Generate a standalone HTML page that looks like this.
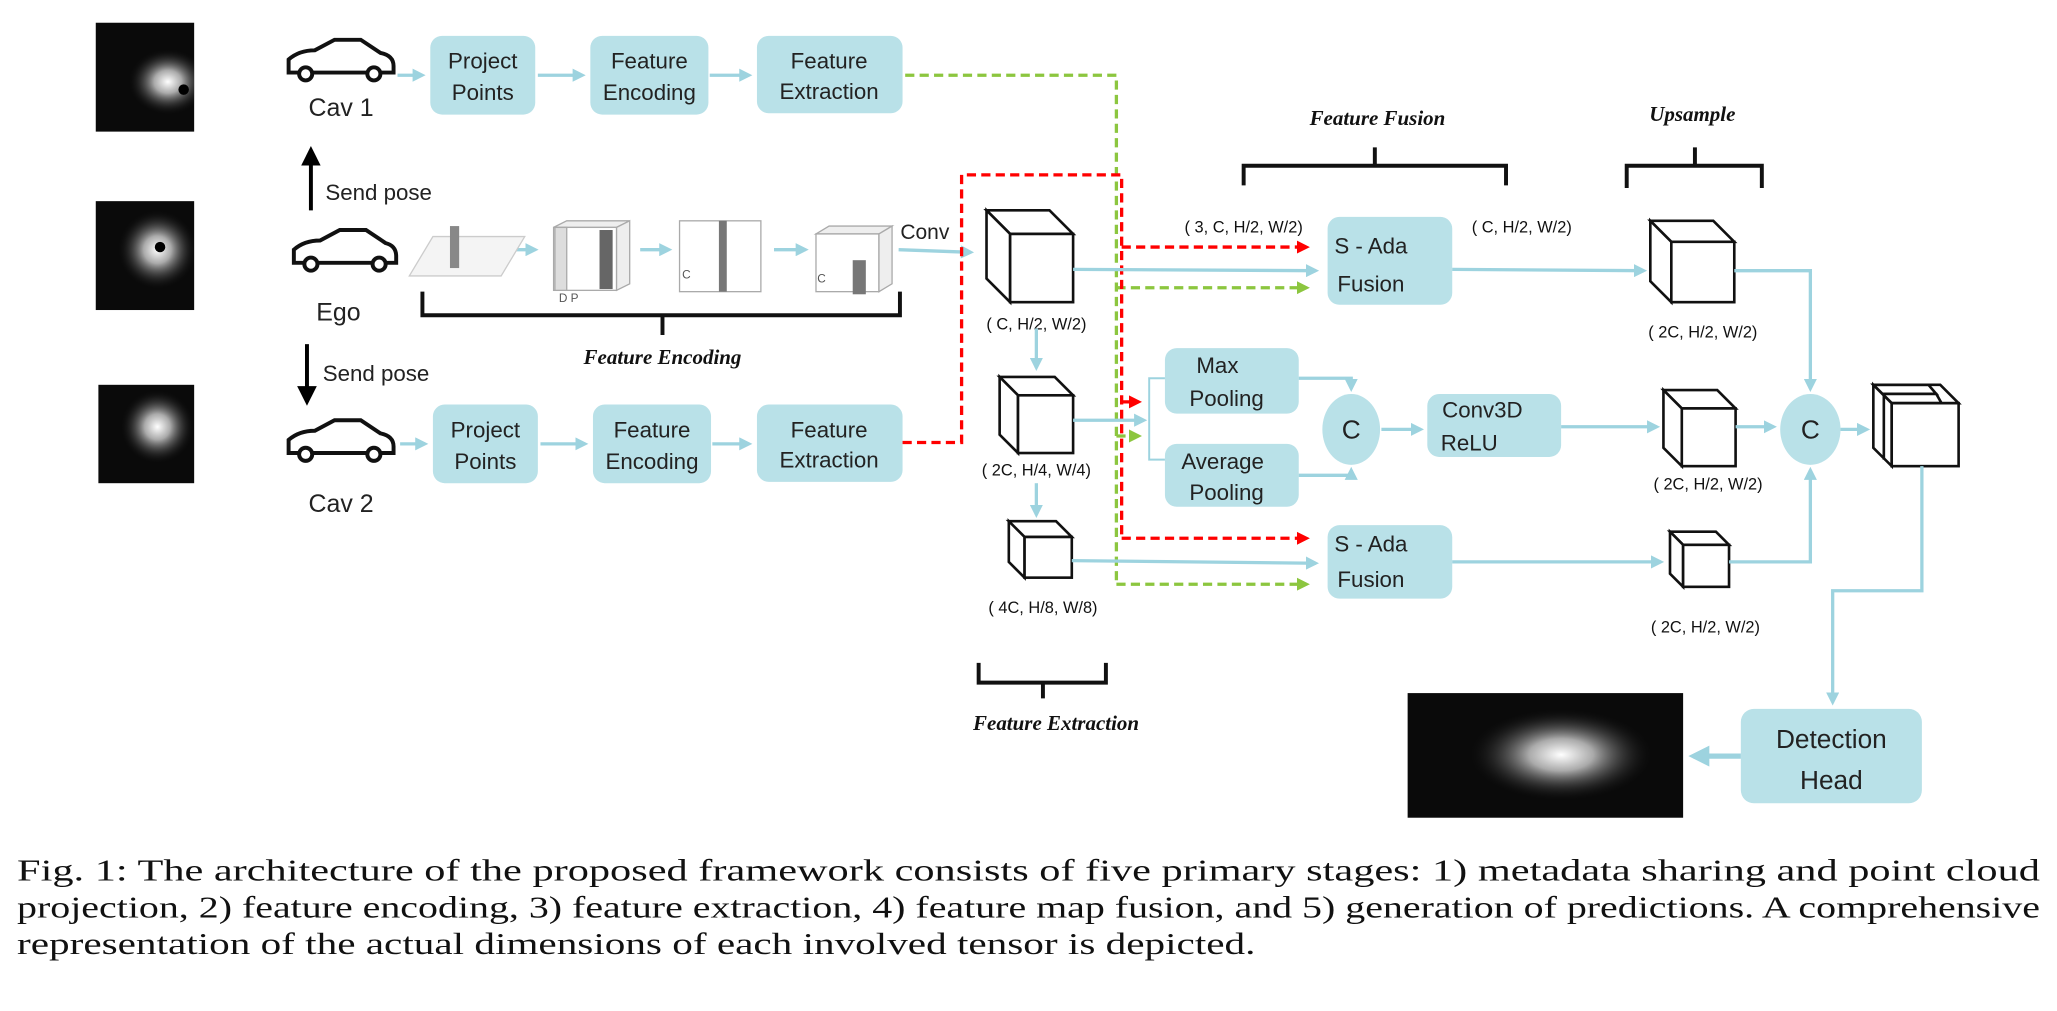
<!DOCTYPE html>
<html><head><meta charset="utf-8"><style>
html,body{margin:0;padding:0;background:#fff;}
svg{display:block}
.bx{fill:#b9e1e8;}
.t{font-family:"Liberation Sans",sans-serif;font-size:17px;fill:#222;text-anchor:middle}
.d{font-family:"Liberation Sans",sans-serif;font-size:12.5px;fill:#111;text-anchor:middle}
.it{font-family:"Liberation Serif",serif;font-style:italic;font-weight:bold;font-size:16px;fill:#111;text-anchor:middle}
.b{stroke:#9dd3df;stroke-width:2.5;fill:none}
.r{stroke:#f00;stroke-width:2.5;fill:none;stroke-dasharray:7,4}
.g{stroke:#8cc63f;stroke-width:2.5;fill:none;stroke-dasharray:7,4}
.c{fill:#fff;stroke:#111;stroke-width:2}
.br{stroke:#111;stroke-width:3;fill:none}
.cap{font-family:"Liberation Serif",serif;font-size:23px;fill:#111}
</style></head><body>
<svg width="2057" height="1011" viewBox="0 0 1568 770" xmlns="http://www.w3.org/2000/svg">
<defs>
<marker id="ab" markerWidth="4" markerHeight="4" refX="3" refY="2" orient="auto"><path d="M0,0 L4,2 L0,4 z" fill="#9dd3df"/></marker>
<marker id="ar" markerWidth="4" markerHeight="4" refX="3" refY="2" orient="auto"><path d="M0,0 L4,2 L0,4 z" fill="#f00"/></marker>
<marker id="ag" markerWidth="4" markerHeight="4" refX="3" refY="2" orient="auto"><path d="M0,0 L4,2 L0,4 z" fill="#8cc63f"/></marker>
<marker id="ak" markerWidth="5" markerHeight="5" refX="4" refY="2.5" orient="auto"><path d="M0,0 L5,2.5 L0,5 z" fill="#000"/></marker>
<radialGradient id="glow"><stop offset="0" stop-color="#fff"/><stop offset="0.35" stop-color="#aaa"/><stop offset="1" stop-color="#111" stop-opacity="0"/></radialGradient>
<clipPath id="c1"><rect x="73" y="17" width="75" height="83"/></clipPath>
<clipPath id="c2"><rect x="73" y="153" width="75" height="83"/></clipPath>
<clipPath id="c3"><rect x="75" y="293" width="73" height="75"/></clipPath>
<clipPath id="c4"><rect x="1073" y="528" width="210" height="95"/></clipPath>
</defs>

<rect x="73" y="17" width="75" height="83" fill="#0a0a0a"/><ellipse clip-path="url(#c1)" cx="128" cy="62" rx="30" ry="25" fill="url(#glow)"/><circle cx="140" cy="68" r="4" fill="#000"/>
<rect x="73" y="153" width="75" height="83" fill="#0a0a0a"/><ellipse clip-path="url(#c2)" cx="120" cy="190" rx="30" ry="30" fill="url(#glow)"/><circle cx="122" cy="188" r="4" fill="#000"/>
<rect x="75" y="293" width="73" height="75" fill="#0a0a0a"/><ellipse clip-path="url(#c3)" cx="120" cy="325" rx="28" ry="28" fill="url(#glow)"/>
<rect x="1073" y="528" width="210" height="95" fill="#0a0a0a"/><ellipse clip-path="url(#c4)" cx="1190" cy="575" rx="70" ry="35" fill="url(#glow)"/>

<g fill="none" stroke="#111" stroke-width="3">
<path d="M220,55 L220,45 Q228,38 240,38 L255,30 L275,30 L290,40 Q300,42 300,50 L300,55 Z"/><circle cx="233" cy="56" r="5" fill="#fff"/><circle cx="285" cy="56" r="5" fill="#fff"/>
<path d="M224,200 L224,190 Q232,183 244,183 L259,175 L279,175 L294,185 Q302,187 302,195 L302,200 Z"/><circle cx="237" cy="201" r="5" fill="#fff"/><circle cx="289" cy="201" r="5" fill="#fff"/>
<path d="M220,345 L220,335 Q228,328 240,328 L255,320 L275,320 L290,330 Q300,332 300,340 L300,345 Z"/><circle cx="233" cy="346" r="5" fill="#fff"/><circle cx="285" cy="346" r="5" fill="#fff"/>
</g>
<text class="t" x="260" y="88" style="font-size:19px">Cav 1</text>
<text class="t" x="258" y="244" style="font-size:19px">Ego</text>
<text class="t" x="260" y="390" style="font-size:19px">Cav 2</text>
<line x1="237" y1="160" x2="237" y2="114" stroke="#000" stroke-width="3" marker-end="url(#ak)"/>
<line x1="234" y1="262" x2="234" y2="306" stroke="#000" stroke-width="3" marker-end="url(#ak)"/>
<text class="t" x="248" y="152" style="text-anchor:start;font-size:17px">Send pose</text>
<text class="t" x="246" y="290" style="text-anchor:start;font-size:17px">Send pose</text>

<rect class="bx" x="328" y="27" width="80" height="60" rx="9"/><text class="t" x="368" y="52">Project</text><text class="t" x="368" y="76">Points</text>
<rect class="bx" x="450" y="27" width="90" height="60" rx="9"/><text class="t" x="495" y="52">Feature</text><text class="t" x="495" y="76">Encoding</text>
<rect class="bx" x="577" y="27" width="111" height="59" rx="9"/><text class="t" x="632" y="52">Feature</text><text class="t" x="632" y="75">Extraction</text>
<rect class="bx" x="330" y="308" width="80" height="60" rx="9"/><text class="t" x="370" y="333">Project</text><text class="t" x="370" y="357">Points</text>
<rect class="bx" x="452" y="308" width="90" height="60" rx="9"/><text class="t" x="497" y="333">Feature</text><text class="t" x="497" y="357">Encoding</text>
<rect class="bx" x="577" y="308" width="111" height="59" rx="9"/><text class="t" x="632" y="333">Feature</text><text class="t" x="632" y="356">Extraction</text>
<g class="b" stroke-width="4">
<line x1="303" y1="57" x2="322" y2="57" marker-end="url(#ab)"/><line x1="410" y1="57" x2="444" y2="57" marker-end="url(#ab)"/><line x1="541" y1="57" x2="571" y2="57" marker-end="url(#ab)"/>
<line x1="305" y1="338" x2="324" y2="338" marker-end="url(#ab)"/><line x1="412" y1="338" x2="446" y2="338" marker-end="url(#ab)"/><line x1="543" y1="338" x2="571" y2="338" marker-end="url(#ab)"/>
<line x1="386" y1="190" x2="408" y2="190" marker-end="url(#ab)"/><line x1="488" y1="190" x2="510" y2="190" marker-end="url(#ab)"/><line x1="590" y1="190" x2="614" y2="190" marker-end="url(#ab)"/>
<line x1="685" y1="190" x2="740" y2="192" marker-end="url(#ab)"/>
</g>

<polygon points="312,210 330,180 400,180 382,210" fill="#f4f4f4" stroke="#ccc"/>
<rect x="343" y="172" width="7" height="32" fill="#888"/>
<g stroke="#aaa" fill="#eee">
<polygon points="422,173 432,168 480,168 470,173"/><rect x="422" y="173" width="48" height="48" fill="#fff"/><polygon points="470,173 480,168 480,216 470,221"/>
<rect x="423" y="173" width="9" height="48" fill="#ddd"/>
<rect x="457" y="175" width="10" height="45" fill="#666" stroke="none"/>
<rect x="518" y="168" width="62" height="54" fill="#fff"/><rect x="548" y="168" width="6" height="54" fill="#777" stroke="none"/>
<polygon points="622,178 632,172 680,172 670,178"/><rect x="622" y="178" width="48" height="44" fill="#fff"/><polygon points="670,178 680,172 680,216 670,222"/>
<rect x="650" y="198" width="10" height="26" fill="#777" stroke="none"/>
</g>
<text x="426" y="230" font-size="9" fill="#555" font-family="Liberation Sans">D P</text>
<text x="520" y="212" font-size="9" fill="#555" font-family="Liberation Sans">C</text>
<text x="623" y="215" font-size="9" fill="#555" font-family="Liberation Sans">C</text>
<text class="t" x="705" y="182" style="font-size:16px">Conv</text>

<path class="br" d="M322,222 L322,240 L686,240 L686,222 M505,240 L505,255"/>
<text class="it" x="505" y="277">Feature Encoding</text>
<path class="br" d="M948,141 L948,126 L1148,126 L1148,141 M1048,126 L1048,112"/>
<text class="it" x="1050" y="95">Feature Fusion</text>
<path class="br" d="M1240,143 L1240,126 L1343,126 L1343,143 M1292,126 L1292,112"/>
<text class="it" x="1290" y="92">Upsample</text>
<path class="br" d="M746,505 L746,520 L843,520 L843,505 M795,520 L795,532"/>
<text class="it" x="805" y="556">Feature Extraction</text>

<path class="g" d="M690,57 L851,57 L851,445"/>
<path class="g" d="M851,219 L996,219" marker-end="url(#ag)"/>
<path class="g" d="M851,332 L868,332" marker-end="url(#ag)"/>
<path class="g" d="M851,445 L996,445" marker-end="url(#ag)"/>
<path class="r" d="M688,337 L733,337 L733,133 L855,133 L855,410"/>
<path class="r" d="M855,188 L996,188" marker-end="url(#ar)"/>
<path class="r" d="M855,306 L868,306" marker-end="url(#ar)"/>
<path class="r" d="M855,410 L996,410" marker-end="url(#ar)"/>

<g class="c">
<polygon points="752,160 800,160 818,178 770,178"/><polygon points="752,160 770,178 770,230 752,212"/><rect x="770" y="178" width="48" height="52"/>
<polygon points="762,287 804,287 818,301 776,301"/><polygon points="762,287 776,301 776,345 762,331"/><rect x="776" y="301" width="42" height="44"/>
<polygon points="769,397 805,397 817,409 781,409"/><polygon points="769,397 781,409 781,440 769,428"/><rect x="781" y="409" width="36" height="31"/>
<polygon points="1258,168 1306,168 1322,184 1274,184"/><polygon points="1258,168 1274,184 1274,230 1258,214"/><rect x="1274" y="184" width="48" height="46"/>
<polygon points="1268,297 1309,297 1323,311 1282,311"/><polygon points="1268,297 1282,311 1282,355 1268,341"/><rect x="1282" y="311" width="41" height="44"/>
<polygon points="1273,405 1308,405 1318,415 1283,415"/><polygon points="1273,405 1283,415 1283,447 1273,437"/><rect x="1283" y="415" width="35" height="32"/>
<polygon points="1428,293 1470,293 1476,300 1434,300"/><polygon points="1434,300 1476,300 1480,307 1438,307"/>
<polygon points="1428,293 1442,307 1442,355 1428,341"/><rect x="1442" y="307" width="51" height="48"/><line x1="1436" y1="300" x2="1436" y2="350"/>
<polygon points="1428,293 1479,293 1493,307 1442,307" fill="none"/>
</g>
<text class="d" x="790" y="251">( C, H/2, W/2)</text>
<text class="d" x="790" y="362">( 2C, H/4, W/4)</text>
<text class="d" x="795" y="467">( 4C, H/8, W/8)</text>
<text class="d" x="1298" y="257">( 2C, H/2, W/2)</text>
<text class="d" x="1302" y="373">( 2C, H/2, W/2)</text>
<text class="d" x="1300" y="482">( 2C, H/2, W/2)</text>
<text class="d" x="948" y="177">( 3, C, H/2, W/2)</text>
<text class="d" x="1160" y="177">( C, H/2, W/2)</text>

<rect class="bx" x="1012" y="165" width="95" height="67" rx="9"/><text class="t" x="1045" y="193">S - Ada</text><text class="t" x="1045" y="222">Fusion</text>
<rect class="bx" x="1012" y="400" width="95" height="56" rx="9"/><text class="t" x="1045" y="420">S - Ada</text><text class="t" x="1045" y="447">Fusion</text>
<rect class="bx" x="888" y="265" width="102" height="50" rx="9"/><text class="t" x="928" y="284">Max</text><text class="t" x="935" y="309">Pooling</text>
<rect class="bx" x="888" y="338" width="102" height="48" rx="9"/><text class="t" x="932" y="357">Average</text><text class="t" x="935" y="381">Pooling</text>
<rect class="bx" x="1088" y="300" width="102" height="48" rx="9"/><text class="t" x="1130" y="318">Conv3D</text><text class="t" x="1120" y="343">ReLU</text>
<ellipse class="bx" cx="1030" cy="327" rx="22" ry="27"/><text class="t" x="1030" y="334" style="font-size:20px">C</text>
<ellipse class="bx" cx="1380" cy="327" rx="23" ry="27"/><text class="t" x="1380" y="334" style="font-size:20px">C</text>
<rect class="bx" x="1327" y="540" width="138" height="72" rx="10"/><text class="t" x="1396" y="570" style="font-size:20px">Detection</text><text class="t" x="1396" y="601" style="font-size:20px">Head</text>

<g class="b">
<line x1="818" y1="205" x2="1003" y2="206" marker-end="url(#ab)"/>
<line x1="1107" y1="205" x2="1253" y2="206" marker-end="url(#ab)"/>
<polyline points="1322,206 1380,206 1380,296" marker-end="url(#ab)"/>
<line x1="790" y1="250" x2="790" y2="280" marker-end="url(#ab)"/>
<line x1="790" y1="368" x2="790" y2="392" marker-end="url(#ab)"/>
<line x1="818" y1="320" x2="872" y2="320" marker-end="url(#ab)"/>
<polyline points="888,288 876,288 876,350 888,350" stroke-width="1.5"/>
<polyline points="990,288 1030,288 1030,296" marker-end="url(#ab)"/>
<polyline points="990,362 1030,362 1030,358" marker-end="url(#ab)"/>
<line x1="1053" y1="327" x2="1083" y2="327" marker-end="url(#ab)"/>
<line x1="1190" y1="325" x2="1263" y2="325" marker-end="url(#ab)"/>
<line x1="1323" y1="325" x2="1352" y2="325" marker-end="url(#ab)"/>
<line x1="1403" y1="327" x2="1423" y2="327" marker-end="url(#ab)"/>
<line x1="817" y1="427" x2="1003" y2="429" marker-end="url(#ab)"/>
<line x1="1107" y1="428" x2="1266" y2="428" marker-end="url(#ab)"/>
<polyline points="1318,428 1380,428 1380,358" marker-end="url(#ab)"/>
<polyline points="1465,355 1465,450 1397,450 1397,535" marker-end="url(#ab)"/>
<line x1="1327" y1="576" x2="1291" y2="576" stroke-width="4" marker-end="url(#ab)"/>
</g>

<text class="cap" x="13" y="671" textLength="1542" lengthAdjust="spacingAndGlyphs">Fig. 1: The architecture of the proposed framework consists of five primary stages: 1) metadata sharing and point cloud</text>
<text class="cap" x="13" y="699" textLength="1542" lengthAdjust="spacingAndGlyphs">projection, 2) feature encoding, 3) feature extraction, 4) feature map fusion, and 5) generation of predictions. A comprehensive</text>
<text class="cap" x="13" y="727" textLength="944" lengthAdjust="spacingAndGlyphs">representation of the actual dimensions of each involved tensor is depicted.</text>
</svg>
</body></html>
